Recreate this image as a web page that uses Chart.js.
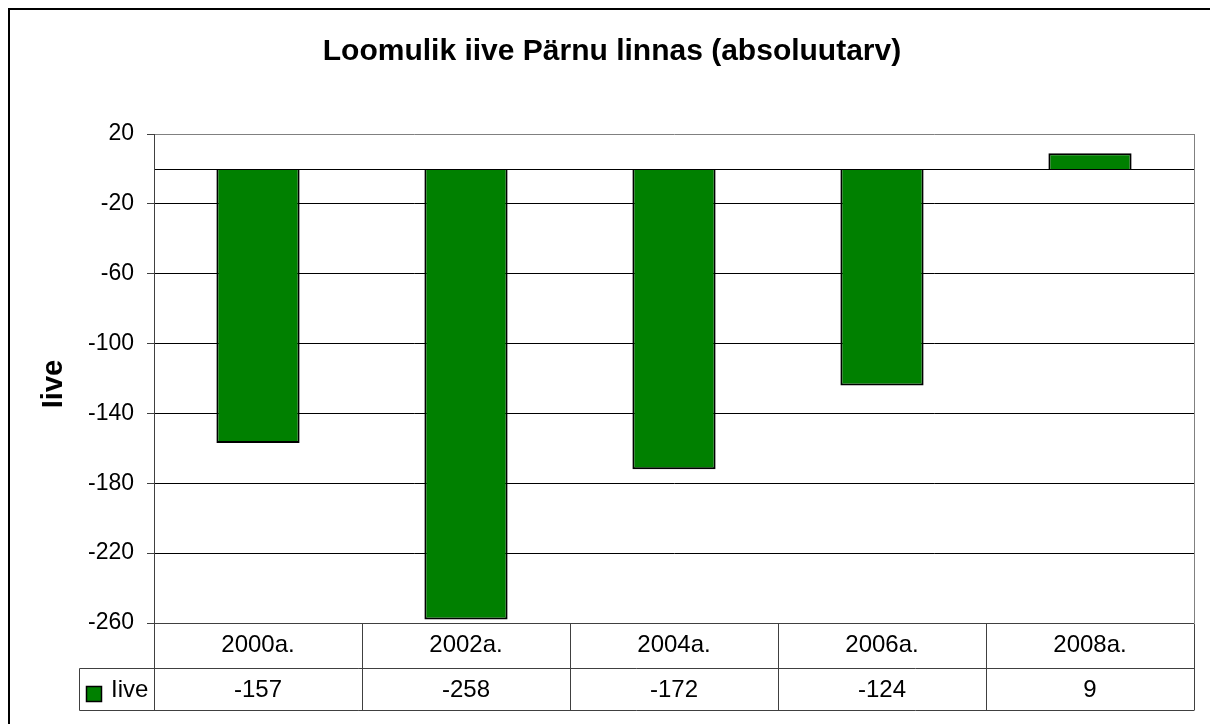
<!DOCTYPE html>
<html>
<head>
<meta charset="utf-8">
<script src="https://cdn.jsdelivr.net/npm/chart.js@4/dist/chart.umd.min.js"></script>
<style>
  html, body { margin: 0; padding: 0; background: #fff; }
  #wrap { width: 1210px; height: 724px; }
</style>
</head>
<body>
<div id="wrap"><canvas id="iiveChart" width="1210" height="724"></canvas></div>
<script>
  // data
  const years = ['2000a.', '2002a.', '2004a.', '2006a.', '2008a.'];
  const iive = [-157, -258, -172, -124, 9];
  const seriesName = 'Iive';
  const yMin = -260;
  const yMax = 20;
  const yStep = 40;

  const FONT = 'Arial, "Liberation Sans", sans-serif';

  // frame, zero line, plot border, data table, axis title
  const excelBits = {
    id: 'excelBits',
    beforeDraw(chart) {
      const ctx = chart.ctx;
      ctx.save();
      ctx.fillStyle = '#fff';
      ctx.fillRect(0, 0, chart.width, chart.height);
      ctx.strokeStyle = '#000';
      ctx.lineWidth = 2;
      ctx.strokeRect(9, 9, 1300, 800);
      ctx.restore();
    },
    afterDatasetsDraw(chart) {
      const ctx = chart.ctx;
      const x = chart.scales.x;
      const y = chart.scales.y;
      const area = chart.chartArea;
      ctx.save();

      // category axis at zero
      const y0 = Math.round(y.getPixelForValue(0)) + 0.5;
      ctx.strokeStyle = '#000';
      ctx.lineWidth = 1;
      ctx.beginPath();
      ctx.moveTo(area.left, y0);
      ctx.lineTo(area.right, y0);
      ctx.stroke();

      // plot area border, right side
      ctx.strokeStyle = '#808080';
      ctx.beginPath();
      ctx.moveTo(Math.round(area.right) + 0.5, area.top);
      ctx.lineTo(Math.round(area.right) + 0.5, area.bottom);
      ctx.stroke();

      // data table
      const top = Math.round(area.bottom) + 0.5;
      const mid = top + 45;
      const bot = mid + 42;
      const legLeft = 79.5;
      const colW = (area.right - area.left) / years.length;
      ctx.strokeStyle = '#404040';
      ctx.beginPath();
      ctx.moveTo(area.left, top); ctx.lineTo(area.right, top);
      ctx.moveTo(legLeft, mid); ctx.lineTo(area.right, mid);
      ctx.moveTo(legLeft, bot); ctx.lineTo(area.right, bot);
      ctx.moveTo(legLeft, mid); ctx.lineTo(legLeft, bot);
      for (let i = 0; i <= years.length; i++) {
        const cx = Math.round(area.left + i * colW) + 0.5;
        ctx.moveTo(cx, i === 0 ? area.top : top);
        ctx.lineTo(cx, bot);
      }
      ctx.stroke();

      ctx.fillStyle = '#000';
      ctx.font = '24px ' + FONT;
      ctx.textAlign = 'center';
      ctx.textBaseline = 'alphabetic';
      years.forEach((yr, i) => {
        const cx = x.getPixelForValue(i);
        ctx.fillText(yr, cx, 652);
        ctx.fillText(String(iive[i]), cx, 697);
      });

      // legend key inside table
      ctx.fillStyle = '#008000';
      ctx.fillRect(87, 687, 14, 14);
      ctx.strokeStyle = '#000';
      ctx.lineWidth = 1.5;
      ctx.strokeRect(86.5, 686.5, 15, 15);
      ctx.fillStyle = '#000';
      ctx.textAlign = 'left';
      ctx.fillText(seriesName, 111, 697);

      // y axis title
      ctx.save();
      ctx.translate(62, 384);
      ctx.rotate(-Math.PI / 2);
      ctx.font = 'bold 29px ' + FONT;
      ctx.textAlign = 'center';
      ctx.textBaseline = 'alphabetic';
      ctx.fillText(seriesName, 0, 0);
      ctx.restore();

      ctx.restore();
    }
  };

  const data = {
    labels: years,
    datasets: [{
      label: seriesName,
      data: iive,
      backgroundColor: '#008000',
      borderColor: '#000',
      borderWidth: 2,
      categoryPercentage: 1,
      barPercentage: 0.4
    }]
  };

  const config = {
    type: 'bar',
    data: data,
    options: {
      responsive: false,
      animation: false,
      devicePixelRatio: 1,
      layout: { padding: { left: 30, top: 0, right: 16, bottom: 101 } },
      plugins: {
        legend: { display: false },
        tooltip: { enabled: false },
        title: {
          display: true,
          text: 'Loomulik iive Pärnu linnas (absoluutarv)',
          color: '#000',
          font: { family: FONT, size: 30, weight: 'bold', lineHeight: 1.2 },
          padding: { top: 34, bottom: 64 }
        }
      },
      scales: {
        x: {
          display: false
        },
        y: {
          min: yMin,
          max: yMax,
          ticks: {
            stepSize: yStep,
            color: '#000',
            padding: 13,
            font: { family: FONT, size: 23 }
          },
          grid: {
            color: (c) => (c.tick && c.tick.value === yMax) ? '#808080' : '#000',
            lineWidth: 1,
            tickLength: 7,
            tickColor: '#404040'
          },
          border: { color: '#404040', width: 1 },
          afterFit(scale) { scale.width = 124; }
        }
      }
    },
    plugins: [excelBits]
  };

  const iiveChart = new Chart(document.getElementById('iiveChart'), config);
</script>
</body>
</html>
